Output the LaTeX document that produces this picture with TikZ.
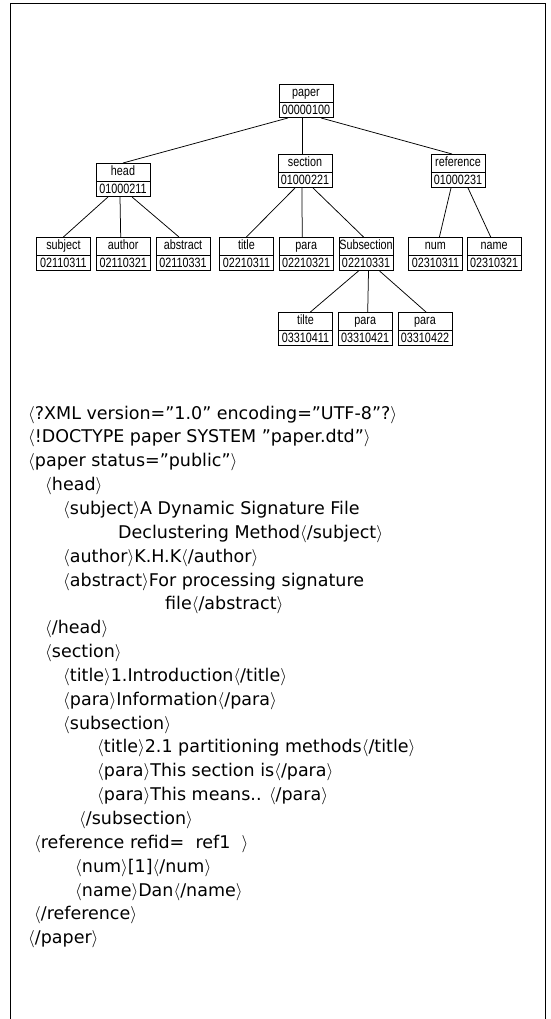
\documentclass[tikz,border=0pt]{standalone}
\usepackage{fontspec}
\setmainfont{DejaVu Sans}
\newfontfamily\boxfont[FakeStretch=0.8]{Liberation Sans}
\usetikzlibrary{positioning,shapes.multipart}
\newcommand{\xtag}[1]{$\langle$#1$\rangle$}

\begin{document}
\begin{tikzpicture}[x=1pt, y=-1pt,
    elemnode/.style={rectangle split, rectangle split parts=2, draw, line width=0.8pt,
      minimum width=54pt, inner xsep=0.3pt, inner ysep=2.5pt, text height=9.5pt, text depth=2.5pt,
      font=\boxfont\fontsize{13.5}{14}\selectfont},
    codeline/.style={anchor=base west, inner sep=0pt, font=\fontsize{17.5}{20}\selectfont},
    link/.style={line width=0.75pt},
  ]
  \useasboundingbox (0,0) rectangle (550,1019);
  \draw[line width=0.8pt] (10,1019) -- (10,3) -- (545,3) -- (545,1019);
  % tree
  \node[elemnode, anchor=north]      (paper)      at (306,84)  {paper\nodepart{two}00000100};
  \node[elemnode, anchor=north]      (head)       at (123,163) {head\nodepart{two}01000211};
  \node[elemnode, anchor=north]      (section)    at (305,154) {section\nodepart{two}01000221};
  \node[elemnode, anchor=north]      (reference)  at (458,154) {reference\nodepart{two}01000231};
  \node[elemnode, anchor=north west] (subject)    at (36,237)  {subject\nodepart{two}02110311};
  \node[elemnode]                    (author)     [right=5pt of subject]  {author\nodepart{two}02110321};
  \node[elemnode]                    (abstract)   [right=5pt of author]   {abstract\nodepart{two}02110331};
  \node[elemnode, anchor=north west] (title)      at (219,237) {title\nodepart{two}02210311};
  \node[elemnode]                    (para)       [right=5pt of title]    {para\nodepart{two}02210321};
  \node[elemnode]                    (subsection) [right=5pt of para]     {Subsection\nodepart{two}02210331};
  \node[elemnode, anchor=north west] (num)        at (408,237) {num\nodepart{two}02310311};
  \node[elemnode]                    (name)       [right=4pt of num]      {name\nodepart{two}02310321};
  \node[elemnode, anchor=north west] (tilte)      at (278,312) {tilte\nodepart{two}03310411};
  \node[elemnode]                    (paraA)      [right=5pt of tilte]    {para\nodepart{two}03310421};
  \node[elemnode]                    (paraB)      [right=5pt of paraA]    {para\nodepart{two}03310422};
  \draw[link] ([xshift=-18pt]paper.south) -- (head.north);
  \draw[link] ([xshift=-4pt]paper.south) -- ([xshift=-3pt]section.north);
  \draw[link] ([xshift=15pt]paper.south) -- ([xshift=-6pt]reference.north);
  \draw[link] ([xshift=-15pt]head.south) -- (subject.north);
  \draw[link] ([xshift=-3pt]head.south) -- ([xshift=-2.5pt]author.north);
  \draw[link] ([xshift=9pt]head.south) -- ([xshift=-4pt]abstract.north);
  \draw[link] ([xshift=-10pt]section.south) -- (title.north);
  \draw[link] ([xshift=-3pt]section.south) -- ([xshift=-4pt]para.north);
  \draw[link] ([xshift=8pt]section.south) -- ([xshift=-2.5pt]subsection.north);
  \draw[link] ([xshift=-7pt]reference.south) -- ([xshift=4pt]num.north);
  \draw[link] ([xshift=10pt]reference.south) -- ([xshift=-3.5pt]name.north);
  \draw[link] ([xshift=-7.5pt]subsection.south) -- ([xshift=5pt]tilte.north);
  \draw[link] ([xshift=2.5pt]subsection.south) -- ([xshift=2.5pt]paraA.north);
  \draw[link] ([xshift=13.5pt]subsection.south) -- ([xshift=1pt]paraB.north);
  % document text
  \node[codeline] (xmldecl)     at (28,419)    {\xtag{?XML version=”1.0” encoding=”UTF-8”?}};
  \node[codeline] (doctype)     at (28,442.9)  {\xtag{!DOCTYPE paper SYSTEM ”paper.dtd”}};
  \node[codeline] (paperopen)   at (28,466.7)  {\xtag{paper status=”public”}};
  \node[codeline] (headopen)    at (45,490.6)  {\xtag{head}};
  \node[codeline] (subjectA)    at (63,514.4)  {\xtag{subject}A Dynamic Signature File};
  \node[codeline] (subjectB)    at (118,538.3) {Declustering Method\xtag{/subject}};
  \node[codeline] (authorline)  at (63,562.1)  {\xtag{author}K.H.K\xtag{/author}};
  \node[codeline] (abstractA)   at (63,586)    {\xtag{abstract}For processing signature};
  \node[codeline] (abstractB)   at (165,609.8) {file\xtag{/abstract}};
  \node[codeline] (headclose)   at (45,633.7)  {\xtag{/head}};
  \node[codeline] (sectionopen) at (45,657.5)  {\xtag{section}};
  \node[codeline] (titleA)      at (63,681.4)  {\xtag{title}1.Introduction\xtag{/title}};
  \node[codeline] (paraline)    at (63,705.2)  {\xtag{para}Information\xtag{/para}};
  \node[codeline] (subopen)     at (63,729.1)  {\xtag{subsection}};
  \node[codeline] (titleB)      at (97,752.9)  {\xtag{title}2.1 partitioning methods\xtag{/title}};
  \node[codeline] (paraB1)      at (97,776.8)  {\xtag{para}This section is\xtag{/para}};
  \node[codeline] (paraB2)      at (97,800.6)  {\xtag{para}This means.. \xtag{/para}};
  \node[codeline] (subclose)    at (79,824.5)  {\xtag{/subsection}};
  \node[codeline] (refopen)     at (34,848.3)  {\xtag{reference refid=\ \ ref1\ \ }};
  \node[codeline] (numline)     at (75,872.2)  {\xtag{num}[1]\xtag{/num}};
  \node[codeline] (nameline)    at (75,896)    {\xtag{name}Dan\xtag{/name}};
  \node[codeline] (refclose)    at (34,919.9)  {\xtag{/reference}};
  \node[codeline] (paperclose)  at (28,943.7)  {\xtag{/paper}};
\end{tikzpicture}
\end{document}
